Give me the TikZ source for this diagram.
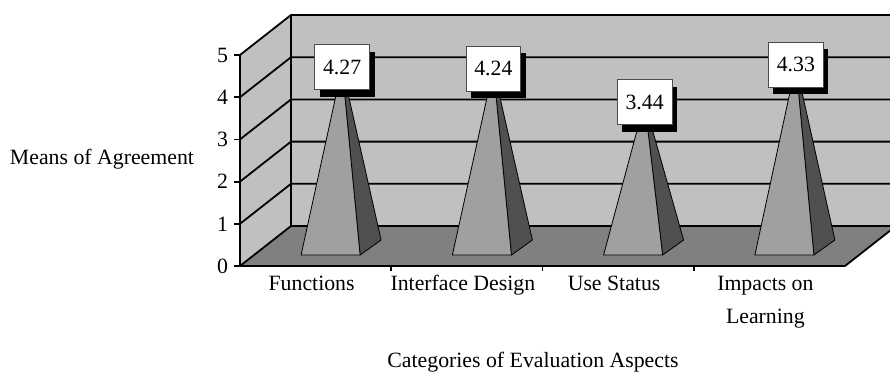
\documentclass[tikz,border=0pt]{standalone}
\usepackage{fontspec}
\setmainfont{Liberation Serif}
\usetikzlibrary{shadows}

\definecolor{wallgray}{HTML}{C0C0C0}
\definecolor{floorgray}{HTML}{808080}
\definecolor{facegray}{HTML}{A0A0A0}
\definecolor{sidegray}{HTML}{505050}

\begin{document}
\begin{tikzpicture}[x=0.5pt, y=-0.5pt, font=\fontsize{10.9}{16.5}\selectfont,
    gridline/.style={line width=0.9pt, line join=round},
    face/.style={draw=black, line width=0.4pt, line join=round},
    valbox/.style={draw=black!70, fill=white, line width=0.4pt, inner xsep=4.2pt,
        minimum height=22.5pt, drop shadow={shadow xshift=2.5pt, shadow yshift=-3.5pt,
        fill=black, opacity=1}},
    catlabel/.style={anchor=base, inner sep=0pt}]
    \useasboundingbox (0,0) rectangle (890,371);
    \clip (0,0) rectangle (890,371);
    % corners of the box
    \coordinate (o) at (240,266);
    \coordinate (ob) at (291,226);
    \coordinate (ot) at (240,55);
    \coordinate (obt) at (291,15);
    \coordinate (xe) at (845,266);
    \coordinate (xeb) at (896,226);
    \coordinate (xebt) at (896,15);

    % walls
    \fill[wallgray] (o) -- (ob) -- (obt) -- (ot) -- cycle;
    \fill[wallgray] (ob) -- (xeb) -- (xebt) -- (obt) -- cycle;
    \foreach \k in {1,...,5}
        \draw[gridline] (240,266-42.2*\k) -- (291,226-42.2*\k) -- (896,226-42.2*\k);
    \draw[gridline] (ob) -- (obt);

    % floor
    \filldraw[gridline, fill=floorgray] (o) -- (xe) -- (xeb) -- (ob) -- cycle;

    % pyramids
    \foreach \xc/\v/\n in {315.6/4.27/fun, 466.9/4.24/int, 618.1/3.44/use, 769.4/4.33/imp} {
        \coordinate (\n-fl) at (\xc-14.5,255);
        \coordinate (\n-fr) at (\xc+44.5,255);
        \coordinate (\n-br) at (\xc+65.5,240);
        \coordinate (\n-top) at (\xc+26.5,247.5-42.2*\v);
        \filldraw[face, fill=sidegray] (\n-fr) -- (\n-br) -- (\n-top) -- cycle;
        \filldraw[face, fill=facegray] (\n-fl) -- (\n-fr) -- (\n-top) -- cycle;
        \node[valbox] (\n-val) at (\n-top) {\v};
    }

    % axes
    \draw[gridline] (o) -- (ot);
    \foreach \k in {0,...,5}
        \draw[gridline] (240,266-42.2*\k) -- (234,266-42.2*\k)
            node[left, inner sep=2.5pt] (tick\k) {\k};
    \foreach \x in {391.25, 542.5, 693.75}
        \draw[gridline] (\x,266) -- (\x,271);

    % labels
    \node[catlabel] (fun-lab) at (311.6,290) {Functions};
    \node[catlabel] (int-lab) at (462.9,290) {Interface Design};
    \node[catlabel] (use-lab) at (614.1,290) {Use Status};
    \node[catlabel] (imp-lab) at (765.4,290)
        {\begin{tabular}[t]{@{}c@{}}Impacts on\\Learning\end{tabular}};
    \node[anchor=base] (ytitle) at (102,164) {Means of Agreement};
    \node[anchor=base] (xtitle) at (533,367) {Categories of Evaluation Aspects};
\end{tikzpicture}
\end{document}
